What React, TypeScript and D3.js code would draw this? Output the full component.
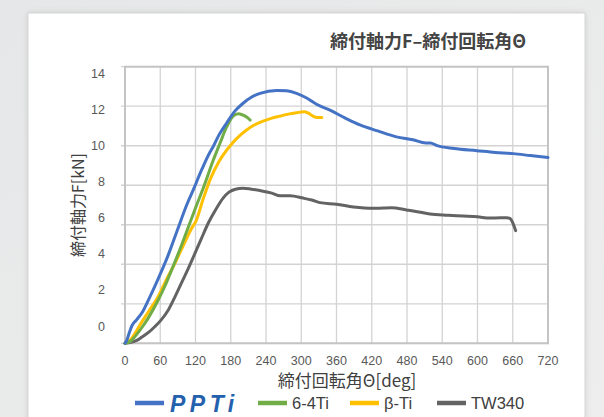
import { useEffect, useRef } from "react";
import * as d3 from "d3";

// rotation angle [deg], axial force [kN]
const pptiData: [number, number][] = [
  [0, 0], [3, 0.15], [8, 0.6], [12, 0.9], [20, 1.2], [30, 1.6], [40, 2.2], [57, 3.3],
  [74, 4.5], [90, 5.8], [105, 7.0], [116, 7.75], [130, 8.75], [145, 9.7], [150, 9.95],
  [160, 10.55], [173, 11.15], [187, 11.75], [201, 12.15], [215, 12.45], [230, 12.65],
  [258, 12.8], [275, 12.78], [292, 12.65], [310, 12.4], [326, 12.1], [349, 11.8],
  [375, 11.4], [400, 11.05], [430, 10.75], [462, 10.45], [490, 10.3], [512, 10.14],
  [520, 10.14], [530, 10.02], [560, 9.86], [599, 9.75], [630, 9.66], [661, 9.6],
  [690, 9.5], [720, 9.4],
];
const ti64Data: [number, number][] = [
  [0, 0], [10, 0.12], [20, 0.45], [30, 0.85], [40, 1.3], [55, 2.1], [68, 2.9], [82, 3.9],
  [96, 4.95], [108, 5.9], [120, 6.85], [135, 8.0], [150, 9.25], [162, 10.15], [173, 10.95],
  [184, 11.5], [193, 11.62], [200, 11.56], [207, 11.45], [213, 11.3],
];
const betaTiData: [number, number][] = [
  [0, 0], [10, 0.2], [20, 0.65], [28, 1.05], [40, 1.6], [57, 2.4], [70, 3.2], [85, 4.05],
  [100, 5.0], [113, 5.8], [121, 6.2], [133, 7.3], [145, 8.3], [160, 9.2], [179, 10.0],
  [193, 10.45], [207, 10.8], [220, 11.05], [235, 11.25], [250, 11.4], [264, 11.5],
  [278, 11.6], [292, 11.67], [305, 11.72], [312, 11.65], [320, 11.5], [327, 11.43], [335, 11.43],
];
const tw340Data: [number, number][] = [
  [0, 0], [10, 0.05], [20, 0.15], [28, 0.3], [40, 0.55], [51, 0.85], [62, 1.2], [74, 1.7],
  [85, 2.35], [96, 3.05], [108, 3.8], [119, 4.55], [130, 5.3], [142, 6.1], [155, 6.8],
  [167, 7.35], [177, 7.65], [188, 7.8], [201, 7.85], [215, 7.8], [235, 7.7], [250, 7.6],
  [264, 7.47], [281, 7.47], [303, 7.35], [318, 7.25], [332, 7.12], [360, 7.04], [389, 6.9],
  [423, 6.83], [440, 6.85], [454, 6.86], [479, 6.75], [500, 6.65], [519, 6.54], [550, 6.48],
  [576, 6.44], [600, 6.4], [621, 6.34], [640, 6.35], [650, 6.36], [656, 6.3], [660, 6.1], [665, 5.7],
];

const xTicks = [0, 60, 120, 180, 240, 300, 360, 420, 480, 540, 600, 660, 720];
const yTicks = [0, 2, 4, 6, 8, 10, 12, 14];

const seriesNames = ["PPTi", "6-4Ti", "β-Ti", "TW340"];
const seriesColors = ["#4472c4", "#70ad47", "#ffc000", "#636363"];
const seriesData = [pptiData, ti64Data, betaTiData, tw340Data];

const title = "締付軸力F–締付回転角Θ";
const xTitle = "締付回転角Θ[deg]";
const yTitle = "締付軸力F[kN]";

const JP = "'Noto Sans CJK JP', 'Noto Sans', sans-serif";
const NUM = "'Liberation Sans', Arial, sans-serif";

export default function App() {
  const ref = useRef<SVGSVGElement | null>(null);

  useEffect(() => {
    const svg = d3.select(ref.current);
    svg.selectAll("*").remove();

    const W = 604;
    const H = 417;
    const plot = { left: 125, right: 548, top: 66.7, bottom: 343.3 };

    // background + card
    const defs = svg.append("defs");
    const grad = defs
      .append("linearGradient")
      .attr("id", "bg")
      .attr("x1", 0)
      .attr("x2", 1)
      .attr("y1", 0)
      .attr("y2", 1);
    grad.append("stop").attr("offset", "0%").attr("stop-color", "#e6e7e8");
    grad.append("stop").attr("offset", "100%").attr("stop-color", "#eeeeee");
    const blur = defs.append("filter").attr("id", "sh").attr("x", -0.1).attr("y", -0.1).attr("width", 1.2).attr("height", 1.2);
    blur.append("feGaussianBlur").attr("stdDeviation", 3);

    svg.append("rect").attr("width", W).attr("height", H).attr("fill", "url(#bg)");
    svg
      .append("rect")
      .attr("x", 28)
      .attr("y", 13)
      .attr("width", 557)
      .attr("height", 420)
      .attr("fill", "#b8b8b8")
      .attr("opacity", 0.6)
      .attr("filter", "url(#sh)");
    svg
      .append("rect")
      .attr("x", 28)
      .attr("y", 13)
      .attr("width", 557)
      .attr("height", 420)
      .attr("fill", "#ffffff")
      .attr("stroke", "#d6d6d6")
      .attr("stroke-width", 1);

    const x = d3.scaleLinear().domain([0, 720]).range([plot.left, plot.right]);
    const y = d3.scaleLinear().domain([0, 14]).range([plot.bottom, plot.top]);
    // tick labels in the source sit on a slightly compressed spacing
    const yLabel = d3.scaleLinear().domain([0, 14]).range([326, 73]);

    // gridlines
    svg
      .append("g")
      .selectAll("line")
      .data(yTicks)
      .join("line")
      .attr("x1", plot.left - 4)
      .attr("x2", plot.right)
      .attr("y1", (d) => y(d))
      .attr("y2", (d) => y(d))
      .attr("stroke", "#d3d3d3")
      .attr("stroke-width", 1.3);
    svg
      .append("g")
      .selectAll("line")
      .data(xTicks)
      .join("line")
      .attr("x1", (d) => x(d))
      .attr("x2", (d) => x(d))
      .attr("y1", plot.top)
      .attr("y2", plot.bottom)
      .attr("stroke", "#d3d3d3")
      .attr("stroke-width", 1.3);

    // plot frame
    svg
      .append("rect")
      .attr("x", plot.left)
      .attr("y", plot.top)
      .attr("width", plot.right - plot.left)
      .attr("height", plot.bottom - plot.top)
      .attr("fill", "none")
      .attr("stroke", "#c4c4c4")
      .attr("stroke-width", 2);

    // tick labels
    svg
      .append("g")
      .selectAll("text")
      .data(yTicks)
      .join("text")
      .attr("x", 105)
      .attr("y", (d) => yLabel(d))
      .attr("dy", "0.36em")
      .attr("text-anchor", "end")
      .attr("font-family", NUM)
      .attr("font-size", 12.5)
      .attr("fill", "#595959")
      .text((d) => d);
    svg
      .append("g")
      .selectAll("text")
      .data(xTicks)
      .join("text")
      .attr("x", (d) => x(d))
      .attr("y", 365)
      .attr("text-anchor", "middle")
      .attr("font-family", NUM)
      .attr("font-size", 12.5)
      .attr("fill", "#595959")
      .text((d) => d);

    // series
    const line = d3
      .line<[number, number]>()
      .x((d) => x(d[0]))
      .y((d) => y(d[1]))
      .curve(d3.curveMonotoneX);
    [3, 2, 1, 0].forEach((i) => {
      svg
        .append("path")
        .datum(seriesData[i])
        .attr("fill", "none")
        .attr("stroke", seriesColors[i])
        .attr("stroke-width", 3)
        .attr("stroke-linejoin", "round")
        .attr("stroke-linecap", "round")
        .attr("d", line);
    });

    // titles
    svg
      .append("text")
      .attr("x", 428)
      .attr("y", 48)
      .attr("text-anchor", "middle")
      .attr("font-family", JP)
      .attr("font-size", 18)
      .attr("font-weight", 700)
      .attr("fill", "#444444")
      .text(title);
    svg
      .append("text")
      .attr("x", 347)
      .attr("y", 387)
      .attr("text-anchor", "middle")
      .attr("font-family", JP)
      .attr("font-size", 17)
      .attr("fill", "#404040")
      .text(xTitle);
    svg
      .append("text")
      .attr("transform", `translate(84,205) rotate(-90)`)
      .attr("text-anchor", "middle")
      .attr("font-family", JP)
      .attr("font-size", 16)
      .attr("fill", "#404040")
      .text(yTitle);

    // legend
    const legendX = [135, 258, 350, 437];
    const legendY = 403;
    seriesNames.forEach((name, i) => {
      svg
        .append("line")
        .attr("x1", legendX[i])
        .attr("x2", legendX[i] + 29)
        .attr("y1", legendY)
        .attr("y2", legendY)
        .attr("stroke", seriesColors[i])
        .attr("stroke-width", 4.5);
      const t = svg
        .append("text")
        .attr("x", legendX[i] + (i === 0 ? 35 : 34))
        .attr("y", legendY + 6)
        .attr("font-family", NUM)
        .attr("fill", "#404040")
        .text(name);
      if (i === 0) {
        t.attr("font-size", 23)
          .attr("font-style", "italic")
          .attr("font-weight", 700)
          .attr("letter-spacing", 4.5)
          .attr("fill", "#2461ad")
          .attr("y", legendY + 8.5);
      } else {
        t.attr("font-size", 16.5);
      }
    });
  }, []);

  return (
    <svg
      ref={ref}
      width={604}
      height={417}
      style={{ position: "absolute", left: 0, top: 0, display: "block" }}
    />
  );
}
